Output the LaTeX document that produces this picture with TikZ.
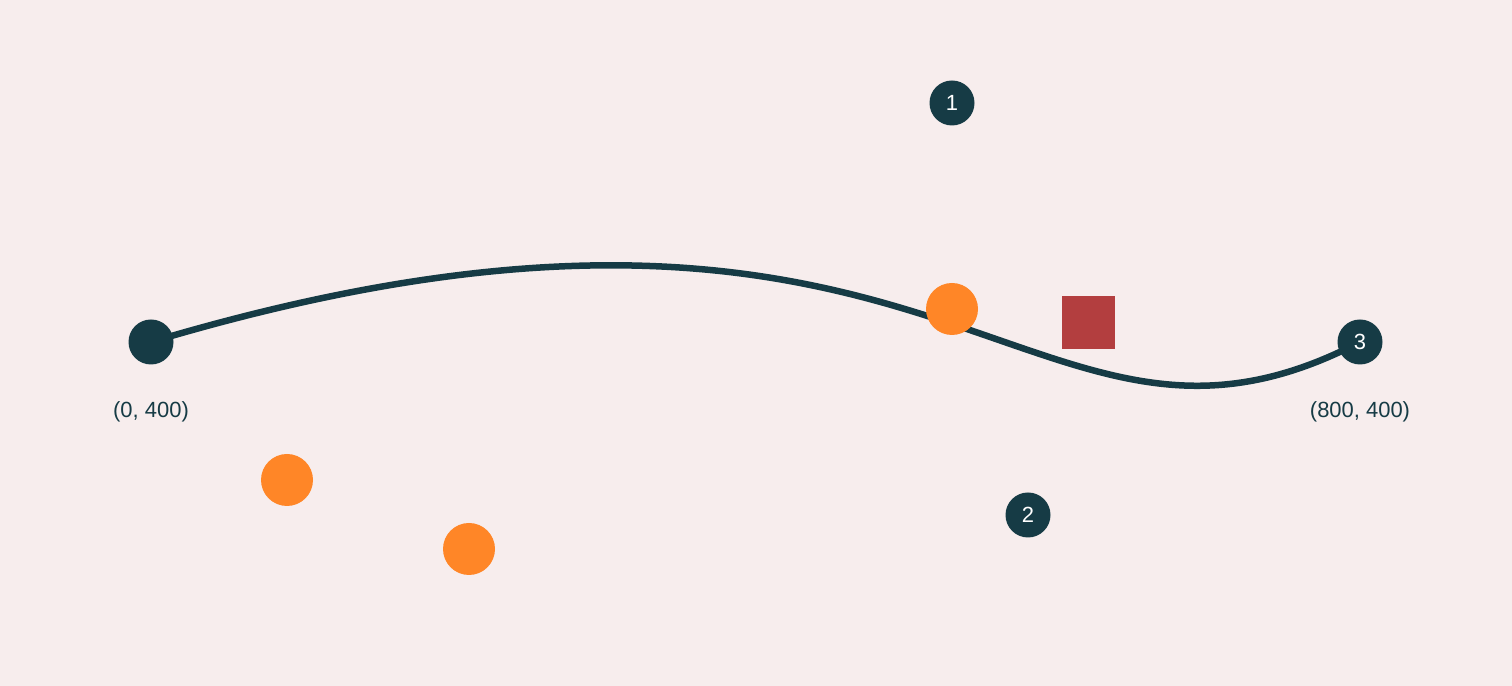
\documentclass[tikz,border=0pt]{standalone}
\usepackage{fontspec}
\setmainfont{Liberation Sans}
\usetikzlibrary{positioning,backgrounds}
\definecolor{bg}{HTML}{F7EDED}
\definecolor{ink}{HTML}{163B45}
\definecolor{dot}{HTML}{FF8627}
\definecolor{mark}{HTML}{B33E3F}

\begin{document}
\begin{tikzpicture}[
  knot/.style={circle,fill=ink,inner sep=0pt,minimum size=0.9cm,text=white,font=\fontsize{12.5}{14}\selectfont},
  sample/.style={circle,fill=dot,inner sep=0pt,minimum size=1.04cm},
  coordlabel/.style={text=ink,font=\fontsize{12.5}{15}\selectfont},
]
  \useasboundingbox (0,0) rectangle (30.24,13.72);

  % End points and control points
  \node[knot] (p0) at (3.02,6.88) {};
  \node[knot] (c1) at (19.04,11.66) {1};
  \node[knot] (c2) at (20.56,3.42) {2};
  \node[knot] (p3) at (27.20,6.88) {3};

  % Canvas and curve, behind the points
  \begin{scope}[on background layer]
    \fill[bg] (0,0) rectangle (30.24,13.72);
    \draw[ink,line width=0.13cm] (p0.center) .. controls (c1.center) and (c2.center) .. (p3.center);
  \end{scope}

  % Labels
  \node[coordlabel] (l0) at (3.02,5.48) {(0, 400)};
  \node[coordlabel] (l3) at (27.20,5.48) {(800, 400)};

  % Samples
  \node[sample] (s1) at (19.04,7.54) {};
  \node[sample] (s2) at (5.74,4.12) {};
  \node[sample] (s3) at (9.38,2.74) {};

  % Marker
  \node[fill=mark,inner sep=0pt,minimum size=1.06cm] (m1) at (21.77,7.27) {};
\end{tikzpicture}
\end{document}
